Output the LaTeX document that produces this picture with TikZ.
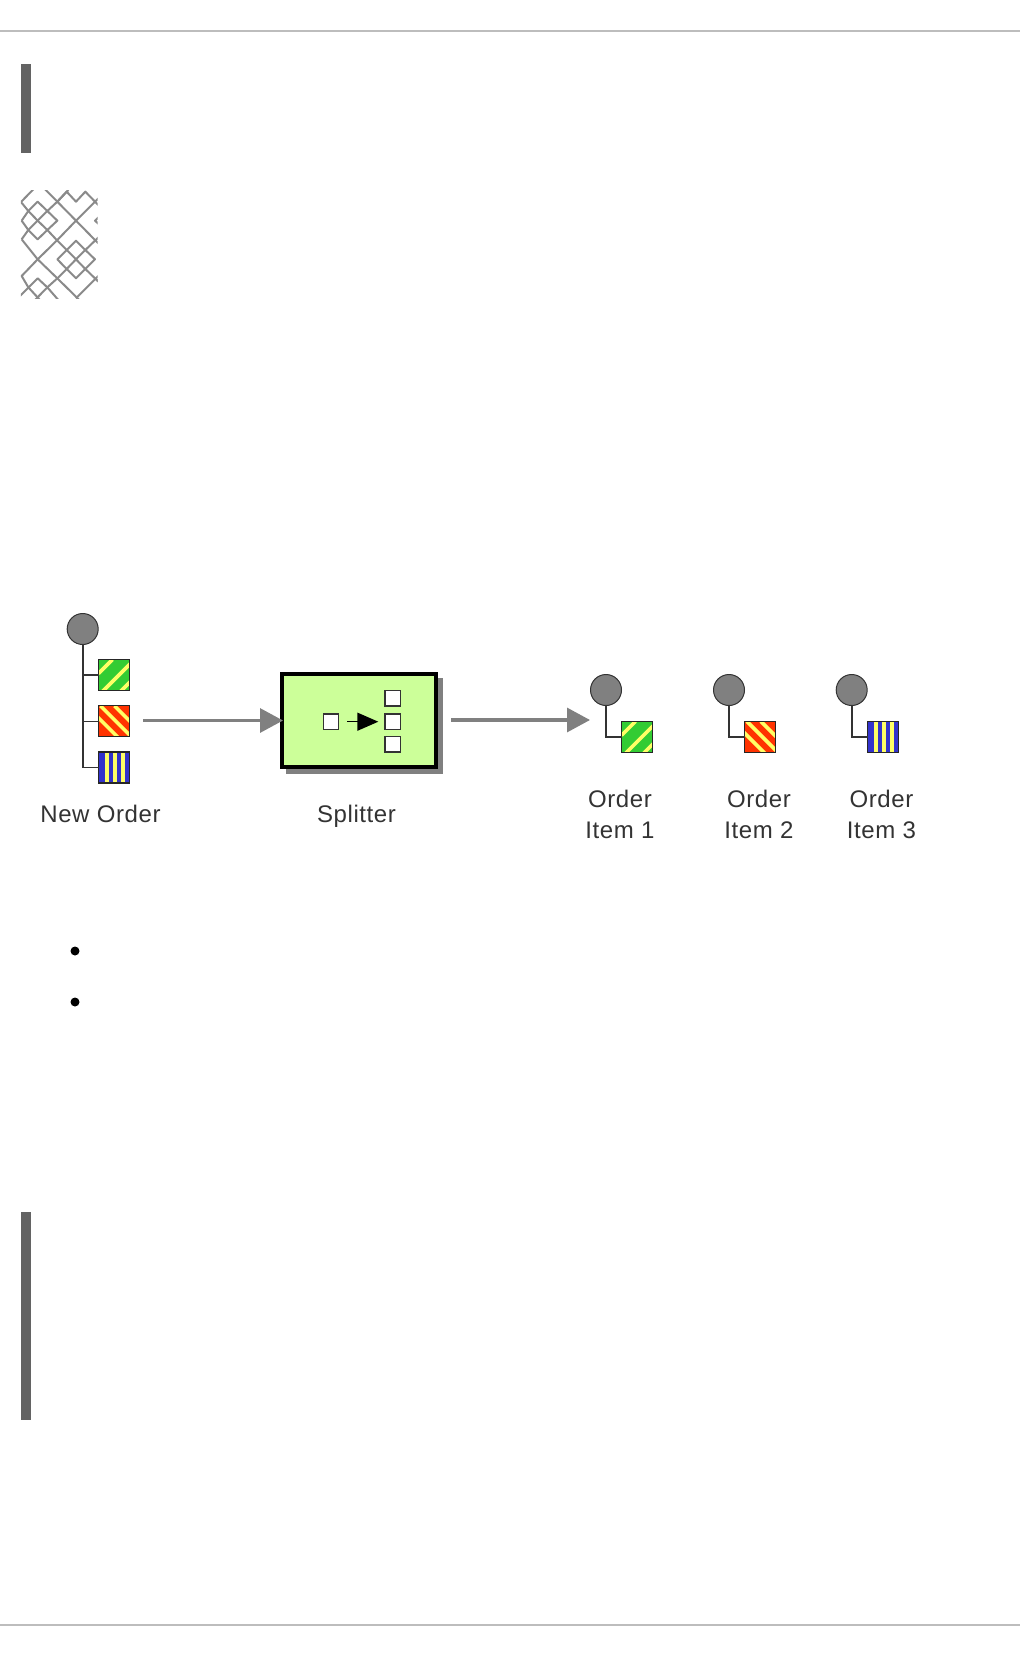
\documentclass[tikz,border=0pt]{standalone}
\usepackage{fontspec}
\setmainfont{Liberation Sans}
\newfontfamily\labelfont[LetterSpace=2.5]{Liberation Sans}
\usetikzlibrary{arrows.meta}
\definecolor{rulegrey}{HTML}{BDBDBD}
\definecolor{bargrey}{HTML}{636363}
\definecolor{latticegrey}{HTML}{8A8A8A}
\definecolor{midgrey}{HTML}{808080}
\definecolor{inkgrey}{HTML}{333333}
\definecolor{boxgreen}{HTML}{CCFF99}
\definecolor{stripeyellow}{HTML}{FFFF66}
\definecolor{itemgreen}{HTML}{33CC33}
\definecolor{itemred}{HTML}{FF3300}
\definecolor{itemblue}{HTML}{3333CC}
\tikzset{
  rulelinestyle/.style={rulegrey,line width=2pt},
  barstyle/.style={fill=bargrey,draw=none},
  latticeline/.style={latticegrey,line width=2pt,line join=round},
  rootcircle/.style={circle,draw=inkgrey,fill=midgrey,line width=1pt,minimum size=31pt,inner sep=0pt},
  itembox/.style={rectangle,line width=0pt,minimum size=31pt,inner sep=0pt,outer sep=0pt},
  itemframe/.style={draw=black!85,line width=1.3pt},
  stripe/.style={stripeyellow,line width=3.6pt},
  tree/.style={inkgrey,line width=1.6pt},
  flow/.style={midgrey,line width=3.2pt,-{Triangle[length=23pt,width=24pt]}},
  splitbox/.style={rectangle,draw=black,fill=boxgreen,line width=3.6pt,minimum width=154pt,minimum height=92.5pt,inner sep=0pt},
  shadowbox/.style={rectangle,fill=midgrey,minimum width=157pt,minimum height=96pt,inner sep=0pt},
  slot/.style={rectangle,draw=inkgrey,fill=white,line width=1.3pt,minimum size=15.5pt,inner sep=0pt},
  label/.style={anchor=base,inner sep=0pt,text=inkgrey,font=\fontsize{24}{31}\selectfont\labelfont,align=center},
  dotmark/.style={circle,fill=black,minimum size=9pt,inner sep=0pt},
}
% striped item square: node name, colour, stripe commands
\newcommand{\greenitem}[2]{%
  \node[itembox,fill=itemgreen] (#1) at (#2) {};
  \begin{scope}
    \clip (#1.north west) rectangle (#1.south east);
    \foreach \s in {14,36,54} {\draw[stripe] ([shift={(\s,0)}]#1.north west) -- ([shift={(0,\s)}]#1.north west);}
  \end{scope}
  \draw[itemframe] (#1.north west) rectangle (#1.south east);
}
\newcommand{\reditem}[2]{%
  \node[itembox,fill=itemred] (#1) at (#2) {};
  \begin{scope}
    \clip (#1.north west) rectangle (#1.south east);
    \foreach \s in {16,2,-12} {\draw[stripe] ([shift={(\s,0)}]#1.north west) -- ([shift={(\s+40,40)}]#1.north west);}
  \end{scope}
  \draw[itemframe] (#1.north west) rectangle (#1.south east);
}
\newcommand{\blueitem}[2]{%
  \node[itembox,fill=itemblue] (#1) at (#2) {};
  \begin{scope}
    \clip (#1.north west) rectangle (#1.south east);
    \foreach \s in {8.5,16.7,24.3} {\draw[stripe] ([shift={(\s,0)}]#1.north west) -- ([shift={(\s,40)}]#1.north west);}
  \end{scope}
  \draw[itemframe] (#1.north west) rectangle (#1.south east);
}
\begin{document}
\begin{tikzpicture}[x=1pt,y=-1pt]
\useasboundingbox (0,0) rectangle (1020,1656);
\fill[white] (0,0) rectangle (1020,1656);
% page rules and side bars
\coordinate (rule1a) at (0,31); \coordinate (rule1b) at (1020,31);
\coordinate (rule2a) at (0,1625); \coordinate (rule2b) at (1020,1625);
\draw[rulelinestyle] (rule1a) -- (rule1b);
\draw[rulelinestyle] (rule2a) -- (rule2b);
\fill[barstyle] (21,64) rectangle (31,153);
\fill[barstyle] (21,1212) rectangle (31,1420);
% lattice pattern
\begin{scope}[shift={(0,170)},x=.33333pt,y=-.33333pt]
  \clip (63,63) rectangle (293,386);
  \draw[latticeline] (100,58) -- (63,96) -- (85,123) -- (113,152) -- (142,180) -- (172,212) -- (200,240) -- (228,268) -- (256,297) -- (285,325) -- (310,350);
  \draw[latticeline] (65,152) -- (85,123) -- (113,95) -- (172,152) -- (142,180) -- (113,208) -- (85,180) -- (65,152);
  \draw[latticeline] (65,208) -- (85,180) -- (113,152) -- (142,123) -- (172,95) -- (205,60);
  \draw[latticeline] (135,58) -- (172,95) -- (228,152) -- (285,210) -- (310,235);
  \draw[latticeline] (172,95) -- (200,65) -- (228,95) -- (256,65) -- (285,95) -- (310,120);
  \draw[latticeline] (310,70) -- (228,152) -- (172,210) -- (113,268) -- (65,318) -- (85,352) -- (120,390);
  \draw[latticeline] (65,208) -- (113,268) -- (172,325) -- (240,392);
  \draw[latticeline] (200,240) -- (228,212) -- (256,240) -- (285,268) -- (256,297) -- (228,325) -- (200,297) -- (172,268) -- (200,240);
  \draw[latticeline] (172,325) -- (200,297) -- (228,268) -- (256,240) -- (285,212) -- (310,187);
  \draw[latticeline] (305,308) -- (228,385);
  \draw[latticeline] (172,325) -- (142,352) -- (105,390);
  \draw[latticeline] (60,378) -- (113,325) -- (142,352) -- (175,390);
  \draw[latticeline] (300,138) -- (285,152) -- (300,166);
  \draw[latticeline] (285,325) -- (300,340);
\end{scope}
% new order
\node[rootcircle] (root) at (82.7,629) {};
\greenitem{sqa}{114,675}
\reditem{sqb}{114,721.3}
\blueitem{sqc}{114,767.6}
\draw[tree] (root.south) |- (sqa.west);
\draw[tree] (root.south) |- (sqb.west);
\draw[tree] (root.south) |- (sqc.west);
\node[label] (lnew) at (100.5,822) {New Order};
% splitter
\node[shadowbox] (shadow) at (364.8,726.3) {};
\node[splitbox] (split) at (358.8,720.5) {};
\node[slot] (sin) at (331,721.7) {};
\node[slot] (souta) at (392.7,698.3) {};
\node[slot] (soutb) at (392.7,721.7) {};
\node[slot] (soutc) at (392.7,744.3) {};
\coordinate (inA) at (347.3,721.7);
\coordinate (inB) at (378.3,721.7);
\draw[black,line width=1.4pt,-{Triangle[length=21pt,width=18pt]}] (inA) -- (inB);
\node[label] (lsplit) at (356.5,822) {Splitter};
% flows
\coordinate (f1) at (143,720.5);
\coordinate (f1e) at (283,720.5);
\draw[flow] (f1) -- (f1e);
\coordinate (f2) at (451,720);
\coordinate (f2e) at (590,720);
\draw[flow] (f2) -- (f2e);
% order items
\node[rootcircle] (ra) at (606,690) {};
\greenitem{ia}{637,736.8}
\draw[tree] (ra.south) |- (ia.west);
\node[rootcircle] (rb) at (729,690) {};
\reditem{ib}{760.3,736.8}
\draw[tree] (rb.south) |- (ib.west);
\node[rootcircle] (rc) at (851.7,690) {};
\blueitem{ic}{883,736.8}
\draw[tree] (rc.south) |- (ic.west);
\node[label] (la) at (620,807) {Order};
\node[label] (la2) at (620,838) {Item 1};
\node[label] (lb) at (759,807) {Order};
\node[label] (lb2) at (759,838) {Item 2};
\node[label] (lc) at (881.5,807) {Order};
\node[label] (lc2) at (881.5,838) {Item 3};
% bullets
\node[dotmark] (b1) at (75,951) {};
\node[dotmark] (b2) at (75,1002) {};
\end{tikzpicture}
\end{document}
